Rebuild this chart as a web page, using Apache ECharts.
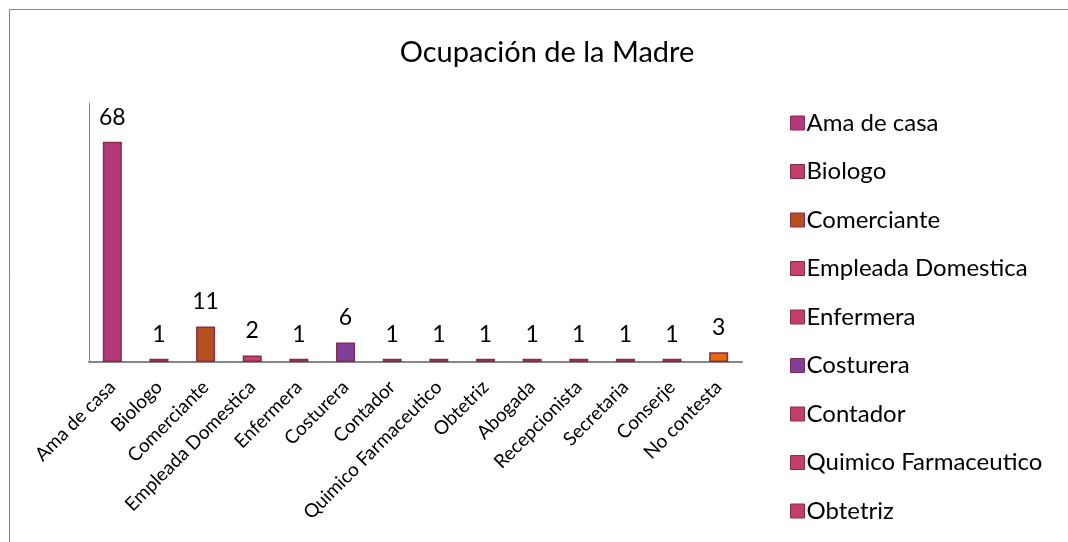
<!DOCTYPE html>
<html>
<head>
<meta charset="utf-8">
<script src="https://cdn.jsdelivr.net/npm/echarts@6/dist/echarts.min.js"></script>
<style>
html,body{margin:0;padding:0;background:#fff;}
#chart{width:1068px;height:542px;}
</style>
</head>
<body>
<div id="chart"></div>
<script>
var categories = ['Ama de casa','Biologo','Comerciante','Empleada Domestica','Enfermera','Costurera','Contador','Quimico Farmaceutico','Obtetriz','Abogada','Recepcionista','Secretaria','Conserje','No contesta'];
var values = [68, 1, 11, 2, 1, 6, 1, 1, 1, 1, 1, 1, 1, 3];
var barColors = ['#B23A7C','#C23F68','#B4501E','#C6426B','#C23F68','#7E3F98','#C23F68','#C23F68','#C23F68','#C23F68','#C23F68','#C23F68','#C23F68','#E46C0A'];
// the legend in the picture is cut after 9 entries
var legendNames = categories.slice(0, 9);

var font = 'Lato, "Open Sans", sans-serif';

// one series per category, stacked so each bar sits on its own slot
var series = categories.map(function(name, i){
	var d = categories.map(function(c, j){ return j === i ? values[i] : '-'; });
	return {
		name: name,
		type: 'bar',
		stack: 'all',
		barWidth: 19,
		data: d,
		itemStyle: {color: barColors[i], borderColor: '#8A2A4F', borderWidth: 1.5},
		label: {show: true, position: 'top', distance: 13, color: '#000', fontSize: 23, fontFamily: font},
		emphasis: {disabled: true}
	};
});

var chart = echarts.init(document.getElementById('chart'));
chart.setOption({
	animation: false,
	title: {
		text: 'Ocupación de la Madre',
		left: 542, top: 33, textAlign: 'center',
		textStyle: {fontSize: 29, fontWeight: 'normal', color: '#000', fontFamily: font}
	},
	legend: {
		orient: 'vertical',
		left: 785, top: 106,
		data: legendNames,
		itemWidth: 14, itemHeight: 14, itemGap: 24.5,
		icon: 'rect',
		itemStyle: {borderColor: '#8A2A4F', borderWidth: 1},
		textStyle: {fontSize: 24, color: '#000', fontFamily: font, lineHeight: 24, padding: [0,0,0,-3]},
		selectedMode: false
	},
	grid: {left: 89, right: 326, top: 103, bottom: 180},
	xAxis: {
		type: 'category',
		data: categories,
		axisLine: {lineStyle: {color: '#868686', width: 2}},
		axisTick: {show: false},
		axisLabel: {rotate: 45, interval: 0, fontSize: 19, color: '#000', fontFamily: font, margin: 22}
	},
	yAxis: {
		type: 'value',
		min: 0, max: 80,
		axisLine: {show: true, lineStyle: {color: '#868686', width: 1}},
		axisTick: {show: false},
		axisLabel: {show: false},
		splitLine: {show: false}
	},
	graphic: [{
		type: 'rect',
		shape: {x: 9.5, y: 9.5, width: 1200, height: 700},
		style: {fill: null, stroke: '#868686', lineWidth: 1}
	}],
	series: series
});
</script>
</body>
</html>
